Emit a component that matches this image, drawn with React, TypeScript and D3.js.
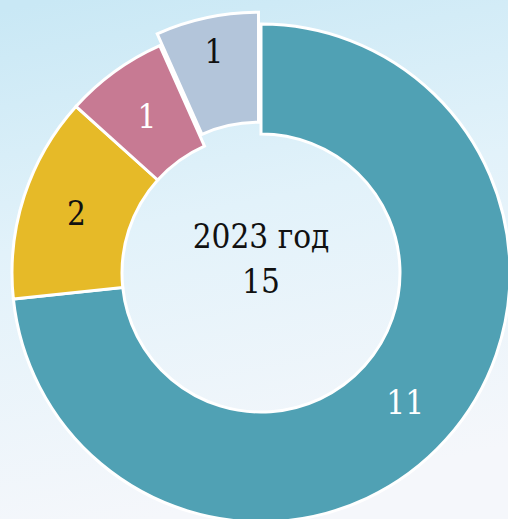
import React from 'react';
import * as d3 from 'd3';

const WIDTH = 508;
const HEIGHT = 519;
const CENTER = { x: 261, y: 273 };
const OUTER_R = 249;
const INNER_R = 139;
const EXPLODE = 12;
const FONT = '"DejaVu Serif", serif';

const categories = ['A', 'B', 'C', 'D'];
const values = [11, 2, 1, 1];
const colors = ['#50a1b4', '#e6ba28', '#c77a93', '#b3c5da'];
const labelColors = ['#ffffff', '#111111', '#ffffff', '#111111'];
const exploded = [false, false, false, true];
const centerLines = ['2023 год', '15'];

const App = () => {
  const pie = d3
    .pie<number>()
    .sort(null)
    .value((d) => d);
  const slices = pie(values);

  const arc = d3
    .arc<d3.PieArcDatum<number>>()
    .innerRadius(INNER_R)
    .outerRadius(OUTER_R);

  return (
    <>
      <style>{'body{margin:0}'}</style>
      <svg width={WIDTH} height={HEIGHT} style={{ display: 'block' }}>
        <defs>
          <linearGradient id="bg" x1="0.1" y1="0" x2="0.3" y2="1">
            <stop offset="0%" stopColor="#c9e8f5" />
            <stop offset="45%" stopColor="#e2f2fa" />
            <stop offset="100%" stopColor="#f5f7fb" />
          </linearGradient>
        </defs>
        <rect width={WIDTH} height={HEIGHT} fill="url(#bg)" />
        <g transform={`translate(${CENTER.x},${CENTER.y})`}>
          {slices.map((s, i) => {
            const mid = (s.startAngle + s.endAngle) / 2;
            const off = exploded[i] ? EXPLODE : 0;
            const dx = Math.sin(mid) * off;
            const dy = -Math.cos(mid) * off;
            // exploded slice has its label pushed further out
            const labelR = (INNER_R + OUTER_R) / 2 + (exploded[i] ? 32 : 0);
            const lx = Math.sin(mid) * labelR;
            const ly = -Math.cos(mid) * labelR;
            return (
              <g key={categories[i]}>
                <path
                  d={arc(s) || ''}
                  transform={`translate(${dx},${dy})`}
                  fill={colors[i]}
                  stroke="#ffffff"
                  strokeWidth={3}
                />
                <text
                  x={lx}
                  y={ly}
                  textAnchor="middle"
                  dominantBaseline="central"
                  fontFamily={FONT}
                  fontStretch="condensed"
                  fontSize={33}
                  fill={labelColors[i]}
                >
                  {values[i]}
                </text>
              </g>
            );
          })}
          <text
            textAnchor="middle"
            fontFamily={FONT}
            fontStretch="condensed"
            fontSize={33}
            fill="#111111"
          >
            <tspan x={0} y={-25}>{centerLines[0]}</tspan>
            <tspan x={0} y={20}>{centerLines[1]}</tspan>
          </text>
        </g>
      </svg>
    </>
  );
};

export default App;
